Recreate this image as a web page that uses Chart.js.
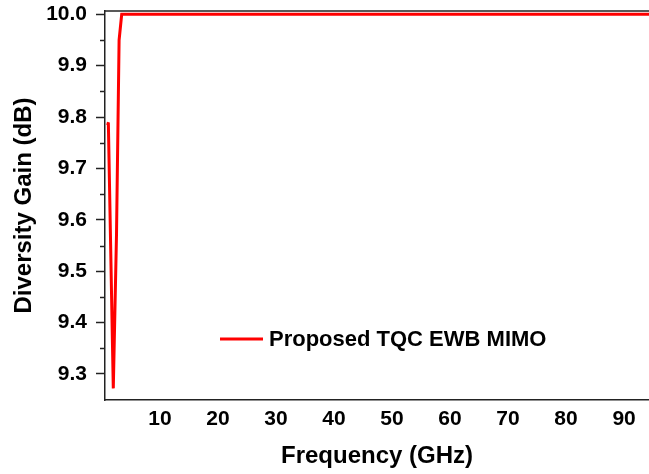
<!DOCTYPE html>
<html>
<head>
<meta charset="utf-8">
<script src="https://cdn.jsdelivr.net/npm/chart.js@4.4.1/dist/chart.umd.min.js"></script>
<style>
  html, body { margin: 0; padding: 0; background: #fff; }
  #wrap { width: 649px; height: 474px; }
</style>
</head>
<body>
<div id="wrap"><canvas id="c"></canvas></div>
<script>
// data
var freq = [0.8, 1.1, 1.95, 2.5, 2.95, 3.4, 10, 20, 30, 40, 50, 60, 70, 80, 90, 100];
var gain = [9.788, 9.787, 9.272, 9.57, 9.95, 10.0, 10.0, 10.0, 10.0, 10.0, 10.0, 10.0, 10.0, 10.0, 10.0, 10.0];
var xTicks = [10, 20, 30, 40, 50, 60, 70, 80, 90];
var yTicks = [9.3, 9.4, 9.5, 9.6, 9.7, 9.8, 9.9, 10.0];
var yMinor = [9.35, 9.45, 9.55, 9.65, 9.75, 9.85, 9.95];
var seriesName = "Proposed TQC EWB MIMO";

Chart.defaults.color = '#000';
Chart.defaults.font.family = "'Liberation Sans', Arial, sans-serif";
Chart.defaults.font.weight = 'bold';

// frame top line, minor ticks and legend
const extras = {
  id: 'extras',
  afterDraw(chart) {
    const ctx = chart.ctx, a = chart.chartArea, y = chart.scales.y;
    ctx.save();
    ctx.strokeStyle = '#222';
    ctx.lineWidth = 1.5;
    ctx.beginPath();
    ctx.moveTo(a.left, a.top);
    ctx.lineTo(a.right, a.top);
    ctx.stroke();
    yMinor.forEach(function (v) {
      const py = Math.round(y.getPixelForValue(v)) + 0.5;
      ctx.beginPath();
      ctx.moveTo(a.left - 5, py);
      ctx.lineTo(a.left, py);
      ctx.stroke();
    });
    // legend
    const ds = chart.data.datasets[0];
    ctx.strokeStyle = ds.borderColor;
    ctx.lineWidth = 3;
    ctx.beginPath();
    ctx.moveTo(220, 339);
    ctx.lineTo(263, 339);
    ctx.stroke();
    ctx.fillStyle = '#000';
    ctx.font = "bold 22px 'Liberation Sans', Arial, sans-serif";
    ctx.textBaseline = 'middle';
    ctx.fillText(ds.label, 269, 340);
    ctx.restore();
  }
};

new Chart(document.getElementById('c'), {
  type: 'line',
  data: {
    datasets: [{
      label: seriesName,
      data: freq.map(function (f, i) { return { x: f, y: gain[i] }; }),
      borderColor: '#ff0000',
      borderWidth: 3,
      pointRadius: 0,
      tension: 0,
      fill: false
    }]
  },
  options: {
    responsive: true,
    maintainAspectRatio: false,
    animation: false,
    layout: { padding: { top: 11, right: 0, left: 0, bottom: 0 } },
    plugins: { legend: { display: false }, tooltip: { enabled: false } },
    scales: {
      x: {
        type: 'linear',
        min: 0.52,
        max: 94.3,
        afterBuildTicks: function (s) { s.ticks = xTicks.map(function (v) { return { value: v }; }); },
        afterFit: function (s) { s.height = 74; s.paddingLeft = 0; s.paddingRight = 0; },
        grid: { display: true, drawOnChartArea: false, drawTicks: false },
        border: { color: '#222', width: 1.5 },
        ticks: { font: { size: 21, weight: 'bold' }, padding: 7, maxRotation: 0,
                 callback: function (v) { return v; } },
        title: { display: true, text: 'Frequency (GHz)', font: { size: 24, weight: 'bold' },
                 padding: { top: 0, bottom: 3 } }
      },
      y: {
        min: 9.2494,
        max: 10.0064,
        afterBuildTicks: function (s) { s.ticks = yTicks.map(function (v) { return { value: v }; }); },
        afterFit: function (s) { s.width = 105; s.paddingTop = 0; s.paddingBottom = 0; },
        grid: { drawOnChartArea: false, drawTicks: true, tickLength: 9, tickColor: '#222', tickWidth: 1.5 },
        border: { color: '#222', width: 1.5 },
        ticks: { font: { size: 21, weight: 'bold' }, padding: 9,
                 callback: function (v) { return v.toFixed(1); } },
        title: { display: true, text: 'Diversity Gain (dB)', font: { size: 24, weight: 'bold' },
                 padding: { top: 10, bottom: 0 } }
      }
    }
  },
  plugins: [extras]
});
</script>
</body>
</html>
